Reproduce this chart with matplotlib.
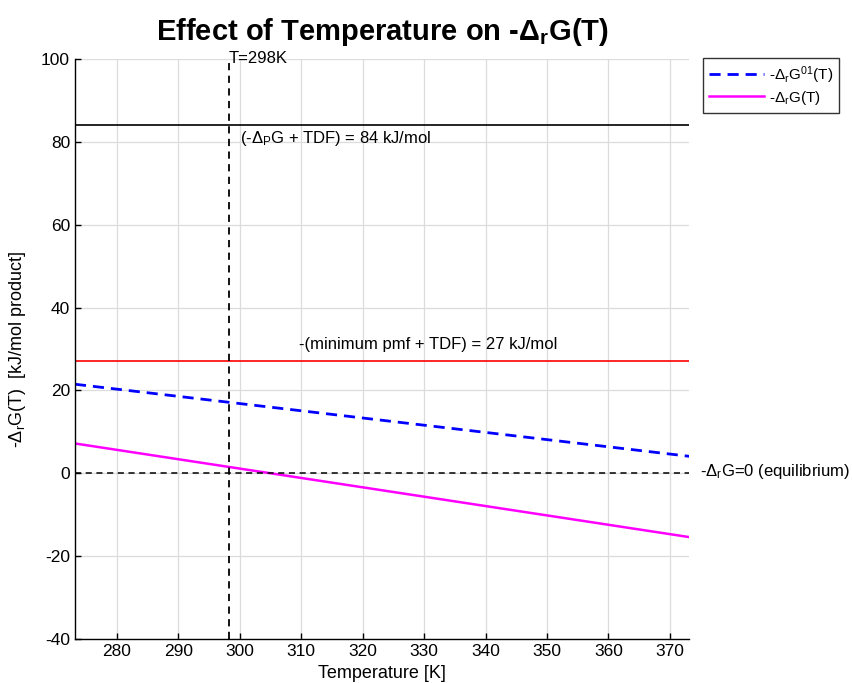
import matplotlib

matplotlib.use("Agg")
import matplotlib.pyplot as plt

# data
T = [273.15, 373.15]
neg_drG01 = [21.5, 4.1]      # -ΔrG'°(T), kJ/mol
neg_drG = [7.2, -15.4]       # -ΔrG(T), kJ/mol
T_ref = 298.15
level_dpG = 84               # (-ΔpG + TDF)
level_pmf = 27               # -(minimum pmf + TDF)
xticks = [280, 290, 300, 310, 320, 330, 340, 350, 360, 370]
yticks = [-40, -20, 0, 20, 40, 60, 80, 100]

plt.rcParams.update({
    "font.family": ["Liberation Sans", "DejaVu Sans"],
    "mathtext.fontset": "custom",
    "mathtext.rm": "Liberation Sans",
    "mathtext.it": "Liberation Sans:italic",
    "mathtext.bf": "Liberation Sans:bold",
    "axes.unicode_minus": False,
    "font.size": 12,
    "xtick.direction": "in", "ytick.direction": "in",
    "axes.linewidth": 1.0,
})

fig = plt.figure(figsize=(8.52, 6.83), dpi=100)
ax = fig.add_axes([0.088, 0.0644, 0.721, 0.8492])

ax.grid(True, color="#dcdcdc", linewidth=0.9)
ax.set_axisbelow(True)

ax.plot(T, neg_drG01, color="blue", ls=(0, (4, 2.5)), lw=2.0,
        label=r"-Δ$_\mathrm{r}$G$^\mathrm{01}$(T)")
ax.plot(T, neg_drG, color="magenta", lw=1.8, label=r"-Δ$_\mathrm{r}$G(T)")

ax.axhline(level_dpG, color="black", lw=1.2)
ax.axhline(level_pmf, color="red", lw=1.2)
ax.axhline(0, color="black", lw=1.1, ls=(0, (4, 3)))
ax.axvline(T_ref, color="black", lw=1.3, ls=(0, (4, 3)))

ax.text(T_ref, 100.2, "T=298K", ha="left", va="center", fontsize=12)
ax.text(T_ref + 1.8, 80.8, r"(-Δ$_\mathrm{P}$G + TDF) = 84 kJ/mol",
        ha="left", va="center", fontsize=12)
ax.text(309.6, 31.0, "-(minimum pmf + TDF) = 27 kJ/mol",
        ha="left", va="center", fontsize=12)
ax.text(374.9, 0.5, r"-Δ$_\mathrm{r}$G=0 (equilibrium)",
        ha="left", va="center", fontsize=12, clip_on=False)

ax.set_xlim(T[0], T[1])
ax.set_ylim(-40, 100)
ax.set_xticks(xticks)
ax.set_yticks(yticks)
ax.tick_params(length=4, width=1.0, labelsize=12.5)
for s in ("top", "right"):
    ax.spines[s].set_visible(False)

ax.set_xlabel("Temperature [K]", fontsize=13)
ax.xaxis.set_label_coords(0.5, -0.045)
ax.set_ylabel(r"-Δ$_\mathrm{r}$G(T)  [kJ/mol product]", fontsize=13)
ax.yaxis.set_label_coords(-0.077, 0.5)
ax.set_title(r"Effect of Temperature on -Δ$_\mathbf{r}$G(T)",
             fontsize=21, fontweight="bold", pad=14)

leg = ax.legend(loc="upper left", bbox_to_anchor=(0.825, 0.915),
                bbox_transform=fig.transFigure, frameon=True, fancybox=False,
                edgecolor="black", fontsize=11, handlelength=3.6,
                borderpad=0.4, labelspacing=0.2, handletextpad=0.3,
                borderaxespad=0)
leg.get_frame().set_linewidth(1.0)

fig.savefig("out.png", dpi=100)
